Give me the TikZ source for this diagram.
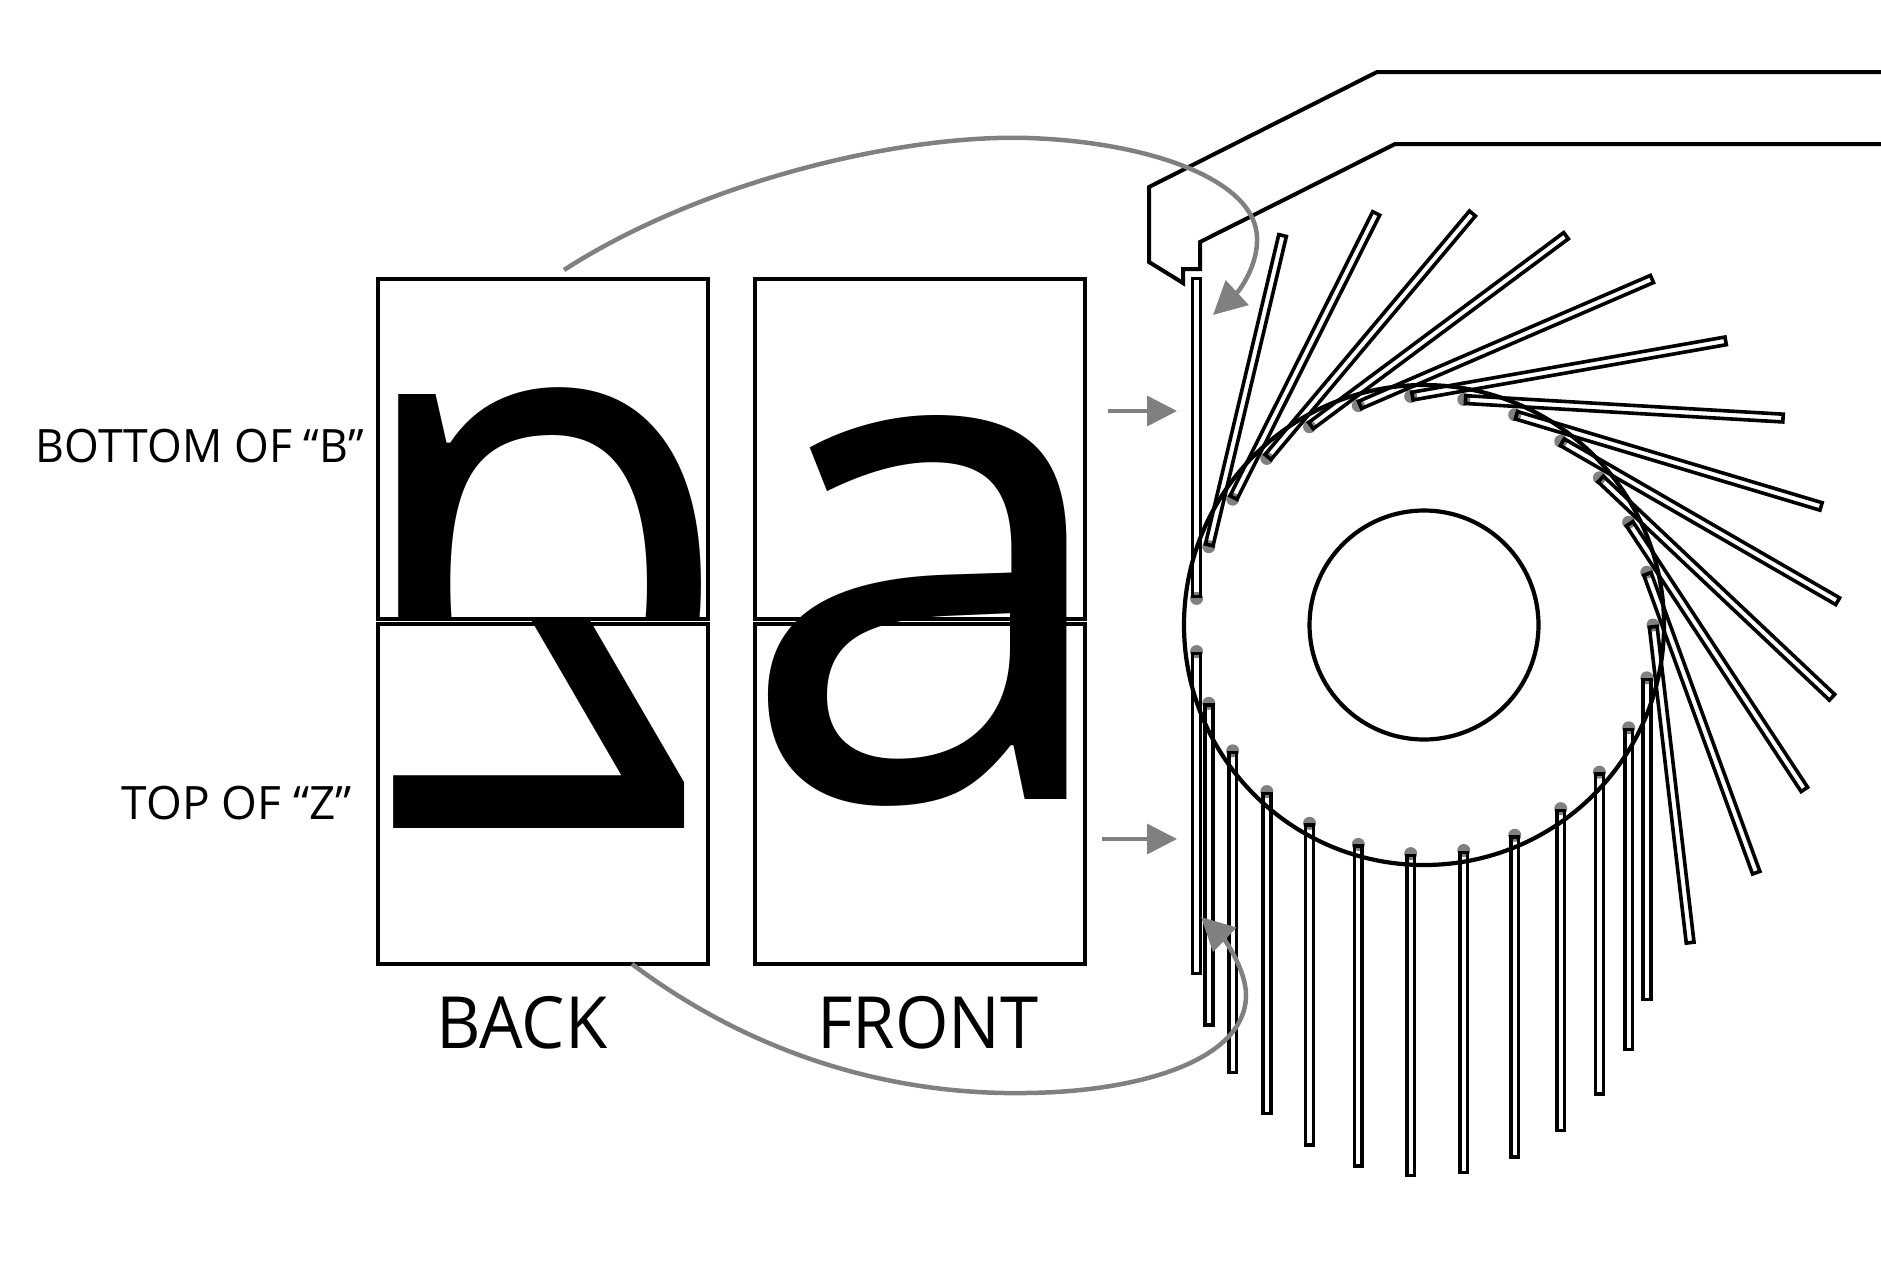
\documentclass[tikz,border=0pt]{standalone}
\usepackage{fontspec}
\setmainfont{Open Sans}
\usetikzlibrary{positioning,calc,arrows.meta}

\begin{document}
\begin{tikzpicture}[x=1pt,y=1pt]
    \tikzstyle{every node}=[fill=none,rectangle,draw=none,inner sep=0]
    \tikzstyle{flap}=[draw=black,line width=4,minimum width=330,minimum height=340]
    \tikzstyle{note}=[font=\fontsize{46}{46}\selectfont]
    \tikzstyle{title}=[font=\fontsize{72}{72}\selectfont,xscale=.955]
    \tikzstyle{glyph}=[anchor=base west,font=\fontsize{706}{706}\selectfont]
    \tikzstyle{ring}=[draw=black,line width=4.2,circle]
    \tikzstyle{blade}=[draw=black,line width=3.6,minimum width=318,minimum height=7.8,anchor=west]
    \tikzstyle{dot}=[fill=gray,circle,minimum size=13]
    \tikzstyle{hint}=[draw=gray,line width=4.5,-{Triangle[length=33,width=33]}]
    \tikzstyle{feed}=[draw=gray,line width=3.5,-{Triangle[length=30,width=30]}]
    \useasboundingbox (0,0) rectangle (1881,-1275);

    \node[flap] (backtop) at (543,-448.5) {};
    \node[flap] (backbot) at (543,-793.5) {};
    \node[flap] (fronttop) at (920,-448.5) {};
    \node[flap] (frontbot) at (920,-793.5) {};

    \begin{scope}
        \clip (backtop.south west) rectangle (backtop.north east);
        \node[glyph,yscale=-1,xscale=.91] (glyphb) at (343,-394) {b};
    \end{scope}
    \begin{scope}
        \clip (backbot.south west) rectangle (backbot.north east);
        \node[glyph,yscale=-1,xscale=.88] (glyphz) at (361,-324) {Z};
    \end{scope}
    \begin{scope}
        \clip (fronttop.south west) rectangle ($(fronttop.north east)+(0,-0.5)$);
        \node[glyph,xscale=.985] (glyphup) at (736,-799) {a};
    \end{scope}
    \begin{scope}
        \clip ($(frontbot.south west)+(0,0)$) rectangle ($(frontbot.north east)+(0,1)$);
        \node[glyph,xscale=.985] (glyphlow) at (736,-799) {a};
    \end{scope}

    \node[note,anchor=east,xscale=.97] (bottomlabel) at (364,-446) {BOTTOM OF “B”};
    \node[note,anchor=east] (toplabel) at (352,-803) {TOP OF “Z”};
    \node[title] (backlabel) at (522,-1023) {BACK};
    \node[title] (frontlabel) at (928,-1023) {FRONT};

    \draw[line width=4,line join=miter]
        (1881,-72) -- (1377,-72) -- (1149,-187) -- (1149,-262) -- (1183,-283) -- (1183,-269)
        -- (1200,-269) -- (1200,-242) -- (1395,-144) -- (1881,-144);

    \node[ring,minimum size=229] (hub) at (1424,-625) {};
    \node[ring,minimum size=480] (drum) at (1424,-625) {};

    \foreach \number in {0,...,13} {
        \pgfmathsetmacro{\ang}{\number*13.3333}
        \pgfmathsetmacro{\tilt}{90-(13-\number)*13.3333}
        \node[dot] (updot\number) at ($(hub)+(\ang:229)$) {};
        \node[blade,rotate=\tilt] (up\number) at ($(hub)+(\ang:229)$) {};
    }
    \foreach \number in {1,...,13} {
        \pgfmathsetmacro{\ang}{-\number*13.3333}
        \node[dot] (lowdot\number) at ($(hub)+(\ang:229)$) {};
        \node[blade,rotate=-90,minimum width=320] (low\number) at ($(hub)+(\ang:229)$) {};
    }

    \coordinate (feedonefrom) at (1108,-411);
    \coordinate (feedoneto) at (1177,-411);
    \coordinate (feedtwofrom) at (1102,-839);
    \coordinate (feedtwoto) at (1177,-839);
    \draw[feed] (feedonefrom) -- (feedoneto);
    \draw[feed] (feedtwofrom) -- (feedtwoto);

    \coordinate (hintonefrom) at (564,-270);
    \coordinate (hintoneto) at (1213,-315);
    \coordinate (hinttwofrom) at (632,-964);
    \coordinate (hinttwoto) at (1201,-917);
    \draw[hint] (hintonefrom) .. controls (700,-182) and (900,-134) .. (1028,-138)
        .. controls (1150,-142) and (1256,-180) .. (1257,-238)
        .. controls (1258,-265) and (1240,-290) .. (hintoneto);
    \draw[hint] (hinttwofrom) .. controls (760,-1060) and (900,-1095) .. (1025,-1093)
        .. controls (1140,-1092) and (1246,-1060) .. (1246,-995)
        .. controls (1246,-970) and (1225,-940) .. (hinttwoto);
\end{tikzpicture}
\end{document}
